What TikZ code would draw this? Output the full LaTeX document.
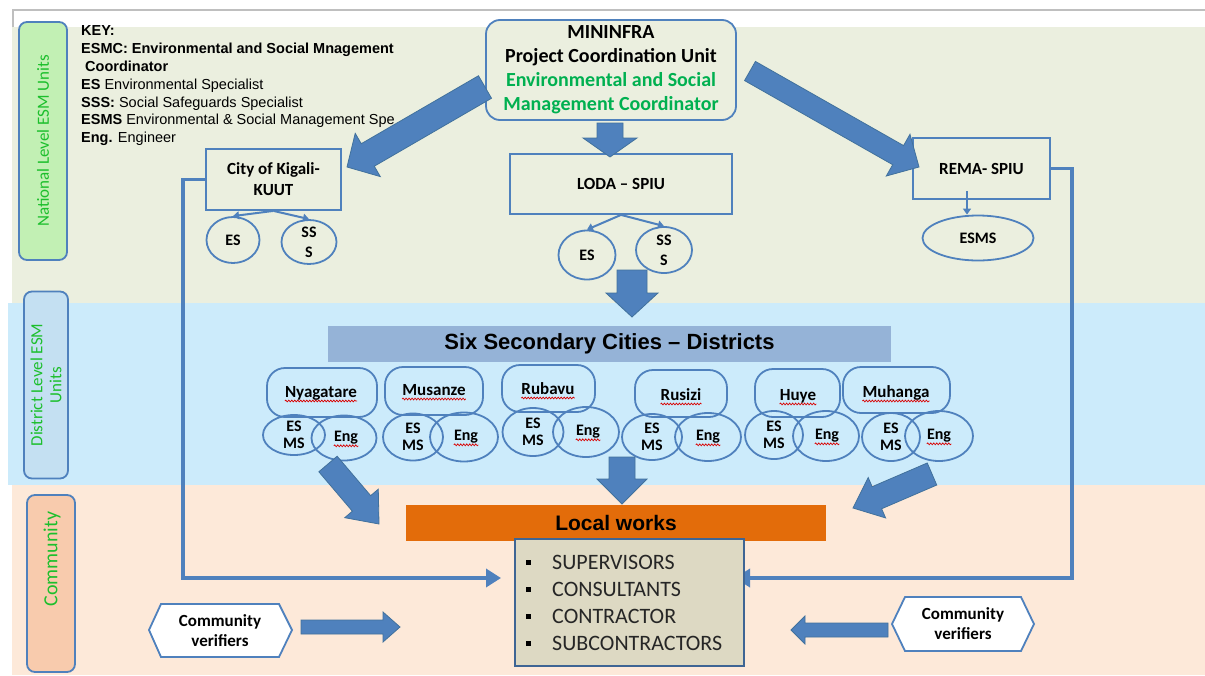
\documentclass[tikz,border=0pt]{standalone}
\usepackage{fontspec}
\setmainfont{Carlito}
\newfontfamily\arialf{Liberation Sans}
\usetikzlibrary{shapes.geometric,arrows.meta,calc,decorations.pathmorphing}
\definecolor{bgG}{HTML}{EBEFDF}
\definecolor{bgB}{HTML}{CCEBFB}
\definecolor{bgP}{HTML}{FDE9D9}
\definecolor{lnB}{HTML}{4F81BD}
\definecolor{arB}{HTML}{4F81BD}
\definecolor{arE}{HTML}{41719C}
\definecolor{grT}{HTML}{00B050}
\definecolor{lblT}{HTML}{1CBF2C}
\definecolor{lblG}{HTML}{C2F0B4}
\definecolor{lblB}{HTML}{C4E0F2}
\definecolor{lblP}{HTML}{F8CBAD}
\definecolor{banB}{HTML}{95B3D7}
\definecolor{orgW}{HTML}{E36C0A}
\definecolor{tanL}{HTML}{DDD9C3}
\definecolor{lstE}{HTML}{3E6594}
\definecolor{lstT}{HTML}{262626}
\newcommand\blockarrow[5]{%
  \coordinate (ba-s) at #1;
  \coordinate (ba-e) at #2;
  \coordinate (ba-h) at ($(ba-e)!#5!(ba-s)$);
  \filldraw[barrow] ($(ba-s)!#3!90:(ba-e)$) -- ($(ba-h)!#3!-90:(ba-s)$) -- ($(ba-h)!#4!-90:(ba-s)$) -- (ba-e) -- ($(ba-h)!#4!90:(ba-s)$) -- ($(ba-h)!#3!90:(ba-s)$) -- ($(ba-s)!#3!-90:(ba-e)$) -- cycle;}
\tikzset{
  barrow/.style={fill=arB, draw=arE, line width=0.8pt, line join=miter},
  conn/.style={draw=lnB, line width=3.5pt, -{Triangle[length=15pt,width=18pt]}},
  thinconn/.style={draw=lnB, line width=2pt, -{Triangle[length=6pt,width=8pt]}},
  bx/.style={draw=lnB, line width=1.8pt, fill=bgG, align=center, inner sep=0pt,
    font=\fontsize{17}{21}\selectfont\bfseries},
  ell/.style={ellipse, draw=lnB, line width=1.8pt, align=center, inner sep=0pt,
    font=\fontsize{16}{20}\selectfont\bfseries},
  sell/.style={ellipse, draw=lnB, line width=1.8pt, align=center, inner sep=0pt,
    font=\fontsize{16}{17}\selectfont\bfseries},
  dbox/.style={draw=lnB, line width=1.8pt, rounded corners=18pt},
  dname/.style={inner sep=0pt, anchor=base, font=\fontsize{17}{20}\selectfont\bfseries},
  engt/.style={inner sep=0pt, font=\fontsize{16}{20}\selectfont\bfseries},
  spell/.style={draw=red!85!black, line width=0.7pt, decorate,
    decoration={snake, amplitude=0.9pt, segment length=3pt}},
  lbl/.style={draw=lnB, line width=1.8pt, rounded corners=8pt, text=lblT, align=center, inner sep=0pt},
  keyt/.style={inner sep=0pt, anchor=base west, font=\arialf\fontsize{14.5}{18}\selectfont},
  hex/.style={draw=lnB, line width=1.8pt, fill=white},
  lst/.style={inner sep=0pt, anchor=base west, text=lstT, font=\fontsize{22}{27}\selectfont},
  bul/.style={fill=black, minimum size=5pt, inner sep=0pt},
}
\begin{document}
\begin{tikzpicture}[x=1pt,y=-1pt]
\useasboundingbox (0,0) rectangle (1205,675);
% bands
\fill[white] (0,0) rectangle (1205,675);
\fill[bgG] (12,27) rectangle (1205,303);
\fill[bgB] (8,303) rectangle (1205,485);
\fill[bgP] (12,485) rectangle (1205,675);
\draw[black!25, line width=1.2pt] (13,27) -- (13,10) -- (1205,10);
% side labels
\node[lbl, fill=lblG, rotate=90, minimum width=238pt, minimum height=48pt,
  font=\fontsize{17}{19}\selectfont] (natl) at (43,141) {National Level ESM Units};
\node[lbl, fill=lblB, rotate=90, minimum width=187pt, minimum height=44pt,
  font=\fontsize{17}{19}\selectfont] (dist) at (46,385) {District Level ESM\\Units};
\node[lbl, fill=lblP, rotate=90, minimum width=177pt, minimum height=48pt] (comm) at (51,583.5) {};
\node[rotate=90, inner sep=0pt, text=lblT, font=\fontsize{20}{22}\selectfont] (commt) at (52,559) {Community};
% key
\node[keyt, font=\arialf\fontsize{14.5}{18}\selectfont\bfseries] (k1) at (81,35) {KEY:};
\node[keyt, font=\arialf\fontsize{14.5}{18}\selectfont\bfseries] (k2) at (81,53) {ESMC: Environmental and Social Mnagement};
\node[keyt, font=\arialf\fontsize{14.5}{18}\selectfont\bfseries] (k3) at (85,71) {Coordinator};
\node[keyt] (k4) at (81,89) {\textbf{ES} Environmental Specialist};
\node[keyt] (k5) at (81,107) {\textbf{SSS:} Social Safeguards Specialist};
\node[keyt] (k6) at (81,124) {\textbf{ESMS} Environmental \& Social Management Spe};
\node[keyt] (k7) at (81,142) {\textbf{Eng.} Engineer};
% long connectors
\coordinate (inL) at (501,578);
\coordinate (inR) at (735,578);
% national boxes
\node[bx, rounded corners=14pt, minimum width=250pt, minimum height=100pt,
  font=\fontsize{20}{24}\selectfont\bfseries] (min) at (611,70)
  {MININFRA\\Project Coordination Unit\\\textcolor{grT}{Environmental and Social}\\\textcolor{grT}{Management Coordinator}};
\node[bx, minimum width=135pt, minimum height=61pt] (kig) at (273.5,179.5) {City of Kigali-\\KUUT};
\node[bx, minimum width=222pt, minimum height=60pt] (loda) at (621,184) {LODA – SPIU};
\node[bx, minimum width=137pt, minimum height=61pt] (rema) at (981.5,168.5) {REMA- SPIU};
\draw[conn] (kig.west) -- (183,179.5) |- (inL);
\draw[conn] (rema.east) -- (1072,168.5) |- (inR);
\node[ell, minimum width=53pt, minimum height=46pt] (kes) at (233,240) {ES};
\node[ell, minimum width=55pt, minimum height=44pt] (kss) at (309,242) {SS\\S};
\node[ell, minimum width=57pt, minimum height=49pt] (les) at (587,255) {ES};
\node[ell, minimum width=56pt, minimum height=46pt] (lss) at (664,250) {SS\\S};
\node[ell, minimum width=111pt, minimum height=45pt] (esms) at (978,238) {ESMS};
\draw[thinconn] (kig.south) -- (kes.north);
\draw[thinconn] (kig.south) -- (kss.north);
\draw[thinconn] (loda.south) -- (les.north);
\draw[thinconn] (loda.south) -- (lss.north);
\coordinate (rs) at (967,191);
\draw[thinconn] (rs) -- (rs |- esms.north);
% district banner
\node[fill=banB, minimum width=563pt, minimum height=36pt, inner sep=0pt,
  font=\arialf\fontsize{22}{26}\selectfont\bfseries] (six) at (609.5,344) {Six Secondary Cities – Districts};
% districts
\draw[dbox] (267,368) rectangle (377,417);
\node[dname] (nyt) at (321,397) {Nyagatare};
\node[sell, minimum width=62pt, minimum height=40pt] (nyes) at (294,435) {ES\\MS};
\node[ell, minimum width=65pt, minimum height=45pt] (nyen) at (344,438) {};
\node[engt] (nyet) at (346,438) {Eng};

\draw[dbox] (385,367) rectangle (483,415);
\node[dname] (mut) at (434,395) {Musanze};
\node[sell, minimum width=60pt, minimum height=47pt] (mues) at (413,437) {ES\\MS};
\node[ell, minimum width=68pt, minimum height=49pt] (muen) at (464,437) {};
\node[engt] (muet) at (466,437) {Eng};

\draw[dbox] (502,365) rectangle (595,412);
\node[dname] (rut) at (548,394) {Rubavu};
\node[sell, minimum width=61pt, minimum height=48pt] (rues) at (533,432) {ES\\MS};
\node[ell, minimum width=66pt, minimum height=50pt] (ruen) at (586,432) {};
\node[engt] (ruet) at (588,432) {Eng};

\draw[dbox] (635,370) rectangle (727,417);
\node[dname] (rst) at (681,400) {Rusizi};
\node[sell, minimum width=60pt, minimum height=46pt] (rses) at (652,437) {ES\\MS};
\node[ell, minimum width=66pt, minimum height=48pt] (rsen) at (708,437) {};
\node[engt] (rset) at (708,437) {Eng};

\draw[dbox] (755,369) rectangle (840,417);
\node[dname] (hut) at (798,400) {Huye};
\node[sell, minimum width=58pt, minimum height=48pt] (hues) at (774,435) {ES\\MS};
\node[ell, minimum width=66pt, minimum height=50pt] (huen) at (826,436) {};
\node[engt] (huet) at (827,436) {Eng};

\draw[dbox] (843,367) rectangle (950,413);
\node[dname] (mht) at (896,397) {Muhanga};
\node[sell, minimum width=58pt, minimum height=48pt] (mhes) at (891,437) {ES\\MS};
\node[ell, minimum width=68pt, minimum height=50pt] (mhen) at (939,436) {};
\node[engt] (mhet) at (939,436) {Eng};

\foreach \n in {nyt,mut,rut,rst,hut,mht,nyet,muet,ruet,rset,huet,mhet}
  \draw[spell] ($(\n.base west)+(0,4)$) -- ($(\n.base east)+(0,4)$);
% local works
\node[fill=orgW, minimum width=420pt, minimum height=36pt, inner sep=0pt,
  font=\arialf\fontsize{21}{24}\selectfont\bfseries] (lw) at (616,523) {Local works};
\node[draw=lstE, fill=tanL, line width=2pt, minimum width=229pt, minimum height=127pt] (lst) at (629.5,602.5) {};
\node[lst] (l1) at (552,569) {SUPERVISORS};
\node[lst] (l2) at (552,596) {CONSULTANTS};
\node[lst] (l3) at (552,623) {CONTRACTOR};
\node[lst] (l4) at (552,650) {SUBCONTRACTORS};
\node[bul] (b1) at (528,562) {};
\node[bul] (b2) at (528,589) {};
\node[bul] (b3) at (528,616) {};
\node[bul] (b4) at (528,643) {};
% community verifiers
\draw[hex] (149,630) -- (161,604) -- (279,604) -- (292,630) -- (279,657) -- (161,657) -- cycle;
\node[align=center, inner sep=0pt, font=\fontsize{17}{20}\selectfont\bfseries] (cvl) at (220,631) {Community\\verifiers};
\draw[hex] (892,624) -- (905,597) -- (1021,597) -- (1034,624) -- (1021,651) -- (905,651) -- cycle;
\node[align=center, inner sep=0pt, font=\fontsize{17}{20}\selectfont\bfseries] (cvr) at (963,624) {Community\\verifiers};
% block arrows
\blockarrow{(485,87)}{(347,167)}{13pt}{25pt}{24pt}
\blockarrow{(750,71)}{(919,167)}{11pt}{24pt}{24pt}
\blockarrow{(610,123)}{(610,157)}{13pt}{27pt}{19pt}
\blockarrow{(632,270)}{(632,317)}{15pt}{26pt}{24pt}
\blockarrow{(622,457)}{(622,504)}{13pt}{25pt}{25pt}
\blockarrow{(328,464)}{(379,524)}{12pt}{22pt}{27pt}
\blockarrow{(932,474)}{(853,508)}{12pt}{22pt}{26pt}
\blockarrow{(301,627)}{(400,627)}{7pt}{15pt}{17pt}
\blockarrow{(888,630)}{(791,630)}{7pt}{14pt}{14pt}
\end{tikzpicture}
\end{document}
